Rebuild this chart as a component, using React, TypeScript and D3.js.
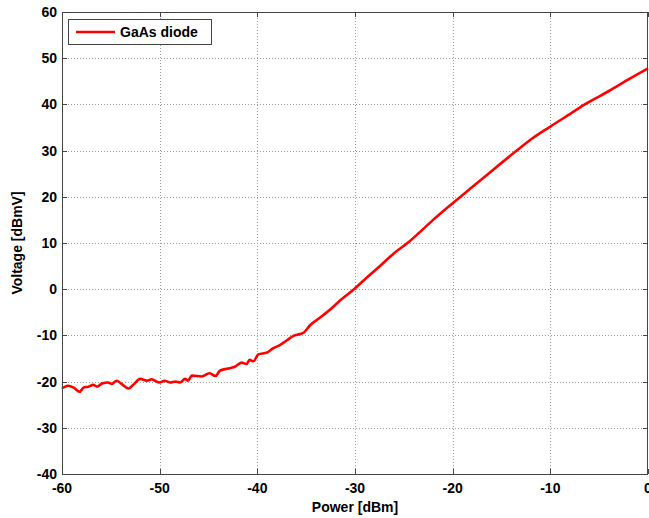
import * as d3 from "d3";
import React, { useEffect, useRef } from "react";

// Measured curve: detector output vs input power
const power: number[] = [
  -60, -59.9, -59.4, -58.8, -58.2, -57.8, -57.3, -56.8, -56.4, -55.9, -55.3,
  -54.9, -54.4, -53.9, -53.2, -52.7, -52.0, -51.3, -50.8, -50.5, -50.0, -49.5,
  -48.9, -48.4, -47.9, -47.4, -47.1, -46.7, -45.7, -44.9, -44.3, -43.8, -42.8,
  -42.3, -41.6, -41.1, -40.8, -40.4, -39.9, -39.0, -38.4, -37.7, -37.0, -36.3,
  -35.6, -35.2, -34.6, -33.6, -32.6, -31.5, -30.1, -29.0, -27.5, -26.0, -24.4,
  -23.7, -22.0, -20.0, -18.0, -16.0, -13.5, -12.0, -10.0, -8.0, -6.3, -4.0,
  -2.0, 0,
];
const voltage: number[] = [
  -21.2, -21.3, -20.9, -21.3, -22.2, -21.3, -21.1, -20.7, -21.1, -20.4, -20.2,
  -20.5, -19.8, -20.5, -21.5, -20.7, -19.4, -19.8, -19.5, -19.8, -20.2, -19.8,
  -20.2, -20.0, -20.2, -19.4, -19.8, -18.7, -18.9, -18.2, -18.8, -17.6, -17.1,
  -16.8, -15.9, -16.2, -15.3, -15.6, -14.1, -13.7, -12.8, -12.1, -11.1, -10.1,
  -9.7, -9.3, -7.8, -6.2, -4.5, -2.4, 0, 2.1, 4.9, 7.8, 10.4,
  11.7, 15.0, 18.6, 22.1, 25.6, 29.9, 32.4, 35.2, 37.9, 40.2, 42.9,
  45.4, 47.8,
];

const xTicks = [-60, -50, -40, -30, -20, -10, 0];
const yTicks = [-40, -30, -20, -10, 0, 10, 20, 30, 40, 50, 60];
const seriesName = "GaAs diode";

const App: React.FC = () => {
  const ref = useRef<SVGSVGElement>(null);

  useEffect(() => {
    const width = 649;
    const height = 518;
    const margin = { top: 12, right: 1, bottom: 44, left: 62 };
    const font = "'Liberation Sans', Arial, sans-serif";

    d3.select(ref.current).selectAll("*").remove();
    const svg = d3.select(ref.current)
      .attr("width", width)
      .attr("height", height)
      .style("font-family", font);

    svg.append("rect").attr("width", width).attr("height", height).attr("fill", "#fff");

    const x = d3.scaleLinear().domain([-60, 0]).range([margin.left, width - margin.right]);
    const y = d3.scaleLinear().domain([-40, 60]).range([height - margin.bottom, margin.top]);
    const [x0, x1] = x.range();
    const [y0, y1] = y.range();

    // Grid (dotted)
    const grid = svg.append("g")
      .attr("stroke", "#9a9a9a")
      .attr("stroke-width", 1)
      .attr("stroke-dasharray", "1,2");
    grid.selectAll("line.gx")
      .data(xTicks.slice(1, -1))
      .enter().append("line")
      .attr("x1", (d) => Math.round(x(d)) + 0.5)
      .attr("x2", (d) => Math.round(x(d)) + 0.5)
      .attr("y1", y1)
      .attr("y2", y0);
    grid.selectAll("line.gy")
      .data(yTicks.slice(1, -1))
      .enter().append("line")
      .attr("y1", (d) => Math.round(y(d)) + 0.5)
      .attr("y2", (d) => Math.round(y(d)) + 0.5)
      .attr("x1", x0)
      .attr("x2", x1);

    // Inward ticks on all four sides
    const tickLen = 5;
    const ticks = svg.append("g").attr("stroke", "#444").attr("stroke-width", 1);
    xTicks.forEach((t) => {
      const px = Math.round(x(t)) + 0.5;
      ticks.append("line").attr("x1", px).attr("x2", px).attr("y1", y0).attr("y2", y0 - tickLen);
      ticks.append("line").attr("x1", px).attr("x2", px).attr("y1", y1).attr("y2", y1 + tickLen);
    });
    yTicks.forEach((t) => {
      const py = Math.round(y(t)) + 0.5;
      ticks.append("line").attr("y1", py).attr("y2", py).attr("x1", x0).attr("x2", x0 + tickLen);
      ticks.append("line").attr("y1", py).attr("y2", py).attr("x1", x1).attr("x2", x1 - tickLen);
    });

    // Curve
    const pts = power.map((p, i) => [p, voltage[i]] as [number, number]);
    svg.append("path")
      .datum(pts)
      .attr("fill", "none")
      .attr("stroke", "#ff0000")
      .attr("stroke-width", 2.6)
      .attr("stroke-linejoin", "round")
      .attr("d", d3.line<[number, number]>()
        .curve(d3.curveMonotoneX)
        .x((d) => x(d[0]))
        .y((d) => y(d[1])));

    // Axes box
    svg.append("rect")
      .attr("x", x0 + 0.5)
      .attr("y", y1 + 0.5)
      .attr("width", x1 - x0 - 1)
      .attr("height", y0 - y1)
      .attr("fill", "none")
      .attr("stroke", "#444")
      .attr("stroke-width", 1);

    // Tick labels
    svg.append("g").selectAll("text")
      .data(xTicks)
      .enter().append("text")
      .attr("x", (d) => x(d))
      .attr("y", y0 + 19)
      .attr("text-anchor", "middle")
      .style("font-size", "14px")
      .style("font-weight", "bold")
      .text((d) => d);
    svg.append("g").selectAll("text")
      .data(yTicks)
      .enter().append("text")
      .attr("x", x0 - 5)
      .attr("y", (d) => y(d) + 5)
      .attr("text-anchor", "end")
      .style("font-size", "14px")
      .style("font-weight", "bold")
      .text((d) => d);

    // Axis labels
    svg.append("text")
      .attr("x", (x0 + x1) / 2)
      .attr("y", height - 6)
      .attr("text-anchor", "middle")
      .style("font-size", "14px")
      .style("font-weight", "bold")
      .text("Power [dBm]");
    svg.append("text")
      .attr("transform", `translate(22,${(y0 + y1) / 2}) rotate(-90)`)
      .attr("text-anchor", "middle")
      .style("font-size", "14px")
      .style("font-weight", "bold")
      .text("Voltage [dBmV]");

    // Legend
    const legend = svg.append("g").attr("transform", "translate(68,19)");
    legend.append("rect")
      .attr("x", 0.5)
      .attr("y", 0.5)
      .attr("width", 143)
      .attr("height", 25)
      .attr("fill", "#fff")
      .attr("stroke", "#444");
    legend.append("line")
      .attr("x1", 8)
      .attr("x2", 47)
      .attr("y1", 13)
      .attr("y2", 13)
      .attr("stroke", "#ff0000")
      .attr("stroke-width", 2.6);
    legend.append("text")
      .attr("x", 52)
      .attr("y", 18)
      .style("font-size", "14px")
      .style("font-weight", "bold")
      .text(seriesName);
  }, []);

  return (
    <div style={{ position: "absolute", left: 0, top: 0 }}>
      <svg ref={ref} style={{ display: "block" }}></svg>
    </div>
  );
};

export default App;
